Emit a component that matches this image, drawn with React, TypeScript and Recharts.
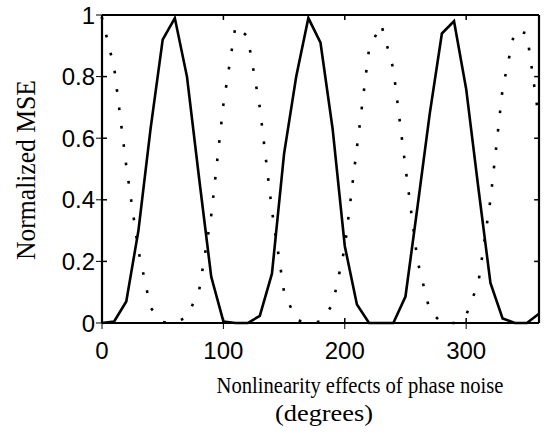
// Normalized MSE against nonlinearity effects of phase noise
import { LineChart, Line, XAxis, YAxis, ReferenceLine } from "recharts";

const degrees = [
  0, 10, 20, 30, 40, 50, 60, 70, 80, 90, 100, 110, 120, 130, 140, 150, 160, 170, 180,
  190, 200, 210, 220, 230, 240, 250, 260, 270, 280, 290, 300, 310, 320, 330, 340, 350, 360,
];
// solid curve
const solidMse = [
  0, 0.005, 0.07, 0.3, 0.63, 0.92, 0.99, 0.8, 0.47, 0.15, 0.005, 0, 0, 0.023, 0.16, 0.55,
  0.8, 0.99, 0.91, 0.63, 0.25, 0.06, 0, 0, 0, 0.086, 0.38, 0.68, 0.94, 0.98, 0.76, 0.44,
  0.13, 0.015, 0, 0, 0.03,
];
// dotted curve
const dottedMse = [
  0.99, 0.83, 0.51, 0.235, 0.05, 0.003, 0, 0.02, 0.105, 0.35, 0.71, 0.965, 0.93, 0.7, 0.365,
  0.1, 0.01, 0, 0.005, 0.06, 0.245, 0.57, 0.89, 0.97, 0.825, 0.505, 0.2, 0.04, 0, 0, 0.025,
  0.13, 0.4, 0.76, 0.95, 0.94, 0.66,
];
const xTicks = [0, 100, 200, 300];
const yTicks = [0, 0.2, 0.4, 0.6, 0.8, 1];

const rows = degrees.map((deg, i) => ({ deg, solid: solidMse[i], dotted: dottedMse[i] }));

const tickFont = "'Liberation Sans', Arial, sans-serif";
const labelFont = "'Liberation Serif', 'Times New Roman', serif";

// default tickSize 6 + tickMargin 2 -> the axis line sits 8px from the tick anchor
const BottomTick = (props: any) => {
  const { x, y, payload } = props;
  return (
    <g>
      <path d={`M${x},${y - 8}v-5`} stroke="#000" strokeWidth={1.5} />
      <text x={x} y={y + 19} textAnchor="middle" dominantBaseline="central" fontFamily={tickFont} fontSize={24} fill="#000">
        {payload.value}
      </text>
    </g>
  );
};
const LeftTick = (props: any) => {
  const { x, y, payload } = props;
  return (
    <g>
      <path d={`M${x + 8},${y}h5`} stroke="#000" strokeWidth={1.5} />
      <text x={x + 1} y={y} textAnchor="end" dominantBaseline="central" fontFamily={tickFont} fontSize={24} fill="#000">
        {payload.value}
      </text>
    </g>
  );
};

const XLabel = ({ viewBox }: any) => {
  const cx = viewBox.x + viewBox.width / 2;
  return (
    <g>
      <text x={cx + 39.5} y={viewBox.y + 70} textAnchor="middle" fontFamily={labelFont} fontSize={23}
        textLength={287} lengthAdjust="spacingAndGlyphs" fill="#000">
        Nonlinearity effects of phase noise
      </text>
      <text x={cx + 3.5} y={viewBox.y + 98} textAnchor="middle" fontFamily={labelFont} fontSize={24}
        textLength={98} lengthAdjust="spacingAndGlyphs" fill="#000">
        (degrees)
      </text>
    </g>
  );
};

const YLabel = ({ viewBox }: any) => (
  <text transform={`translate(${viewBox.x - 7},${viewBox.y + viewBox.height / 2 + 1}) rotate(-90)`}
    textAnchor="middle" fontFamily={labelFont} fontSize={27} textLength={180} lengthAdjust="spacingAndGlyphs" fill="#000">
    Normalized MSE
  </text>
);

export default function App() {
  return (
    <div style={{ position: "absolute", left: 0, top: 0, width: 546, height: 434 }}>
      {/* frame, axes and the solid curve */}
      <div style={{ position: "absolute", left: 0, top: 0 }}>
        <LineChart width={546} height={434} data={rows} margin={{ top: 15, right: 7, bottom: 81, left: 42 }}>
          <XAxis dataKey="deg" type="number" domain={[0, 360]} ticks={xTicks} stroke="#000"
            axisLine={{ stroke: "#000", strokeWidth: 2.2 }} tick={BottomTick} label={{ content: XLabel }} />
          <YAxis type="number" domain={[0, 1]} ticks={yTicks} width={60} stroke="#000"
            axisLine={{ stroke: "#000", strokeWidth: 2.2 }} tick={LeftTick} label={{ content: YLabel }} />
          <ReferenceLine y={1} stroke="#000" strokeWidth={2.2} />
          <ReferenceLine x={360} stroke="#000" strokeWidth={2.2} />
          {xTicks.slice(1).map((t) => (
            <ReferenceLine key={`tx${t}`} segment={[{ x: t, y: 1 }, { x: t, y: 0.984 }]} stroke="#000" strokeWidth={1.5} />
          ))}
          {yTicks.slice(1, -1).map((t) => (
            <ReferenceLine key={`ty${t}`} segment={[{ x: 360, y: t }, { x: 356, y: t }]} stroke="#000" strokeWidth={1.5} />
          ))}
          <Line dataKey="solid" type="linear" stroke="#000" strokeWidth={2.6} dot={false} isAnimationActive={false} />
        </LineChart>
      </div>
      {/* dotted curve on a second, transparent chart with the same plot area */}
      <div style={{ position: "absolute", left: 0, top: 0, pointerEvents: "none" }}>
        <LineChart width={546} height={434} data={rows} margin={{ top: 15, right: 7, bottom: 81, left: 42 }}>
          <XAxis dataKey="deg" type="number" domain={[0, 360]} ticks={xTicks} tick={false} tickLine={false} axisLine={false} />
          <YAxis type="number" domain={[0, 1]} ticks={yTicks} width={60} tick={false} tickLine={false} axisLine={false} />
          <Line dataKey="dotted" type="linear" stroke="#000" strokeWidth={2.6} strokeDasharray="0.1 18.4"
            strokeLinecap="square" dot={false} isAnimationActive={false} />
        </LineChart>
      </div>
    </div>
  );
}
